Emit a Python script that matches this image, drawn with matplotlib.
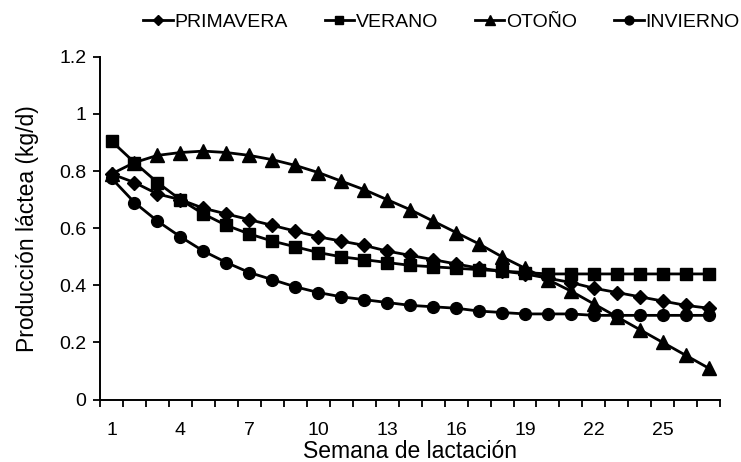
import matplotlib.pyplot as plt
import numpy as np

# semanas de lactación
semanas = list(range(1, 28))

primavera = [0.79, 0.76, 0.72, 0.70, 0.67, 0.65, 0.63, 0.61, 0.59, 0.57,
             0.555, 0.54, 0.52, 0.505, 0.49, 0.475, 0.46, 0.45, 0.44, 0.425,
             0.41, 0.39, 0.375, 0.36, 0.345, 0.33, 0.32]
verano = [0.905, 0.83, 0.76, 0.70, 0.65, 0.61, 0.58, 0.555, 0.535, 0.515,
          0.50, 0.49, 0.48, 0.47, 0.465, 0.46, 0.455, 0.45, 0.445, 0.44,
          0.44, 0.44, 0.44, 0.44, 0.44, 0.44, 0.44]
otono = [0.79, 0.83, 0.855, 0.865, 0.87, 0.865, 0.855, 0.84, 0.82, 0.795,
         0.765, 0.735, 0.70, 0.665, 0.625, 0.585, 0.545, 0.50, 0.46, 0.42,
         0.38, 0.335, 0.29, 0.245, 0.20, 0.155, 0.11]
invierno = [0.775, 0.69, 0.625, 0.57, 0.52, 0.48, 0.445, 0.42, 0.395, 0.375,
            0.36, 0.35, 0.34, 0.33, 0.325, 0.32, 0.31, 0.305, 0.30, 0.30,
            0.30, 0.295, 0.295, 0.295, 0.295, 0.295, 0.295]

etiquetas_x = [1, 4, 7, 10, 13, 16, 19, 22, 25]
etiquetas_y = ['0', '0.2', '0.4', '0.6', '0.8', '1', '1.2']

plt.rcParams['font.family'] = ['Liberation Sans', 'DejaVu Sans']

fig = plt.figure(figsize=(7.41, 4.62), dpi=100)
ax = fig.add_axes([0.135, 0.135, 0.837, 0.742])

lw = 2.0
ax.plot(semanas, primavera, marker='D', markersize=7, color='black', linewidth=lw, label='PRIMAVERA')
ax.plot(semanas, verano, marker='s', markersize=8, color='black', linewidth=lw, label='VERANO')
ax.plot(semanas, otono, marker='^', markersize=9.5, color='black', linewidth=lw, label='OTOÑO')
ax.plot(semanas, invierno, marker='o', markersize=8.5, color='black', linewidth=lw, label='INVIERNO')

ax.set_xlim(0.5, 27.5)
ax.set_ylim(0, 1.2)

# ticks entre categorías, etiquetas en el centro
ax.set_xticks(np.arange(0.5, 28, 1))
ax.set_xticklabels([])
ax.set_xticks(etiquetas_x, minor=True)
ax.set_xticklabels([str(s) for s in etiquetas_x], minor=True)
ax.tick_params(axis='x', which='major', direction='out', length=5, width=1.3)
ax.tick_params(axis='x', which='minor', length=0, pad=16, labelsize=14)

ax.set_yticks(np.arange(0, 1.21, 0.2))
ax.set_yticklabels(etiquetas_y)
ax.tick_params(axis='y', direction='out', length=5, width=1.3, labelsize=14, pad=5)

for s in ['top', 'right']:
    ax.spines[s].set_visible(False)
for s in ['left', 'bottom']:
    ax.spines[s].set_linewidth(1.4)

ax.set_xlabel('Semana de lactación', fontsize=16.5, labelpad=1)
ax.set_ylabel('Producción láctea (kg/d)', fontsize=16.5, labelpad=14)

ax.legend(loc='lower left', bbox_to_anchor=(0.07, 1.075), ncol=4, frameon=False,
          handlelength=1.5, handletextpad=0.1, columnspacing=1.9, markerscale=0.75,
          prop={'size': 14}, borderaxespad=0, borderpad=0)

fig.savefig('out.png', dpi=100)
